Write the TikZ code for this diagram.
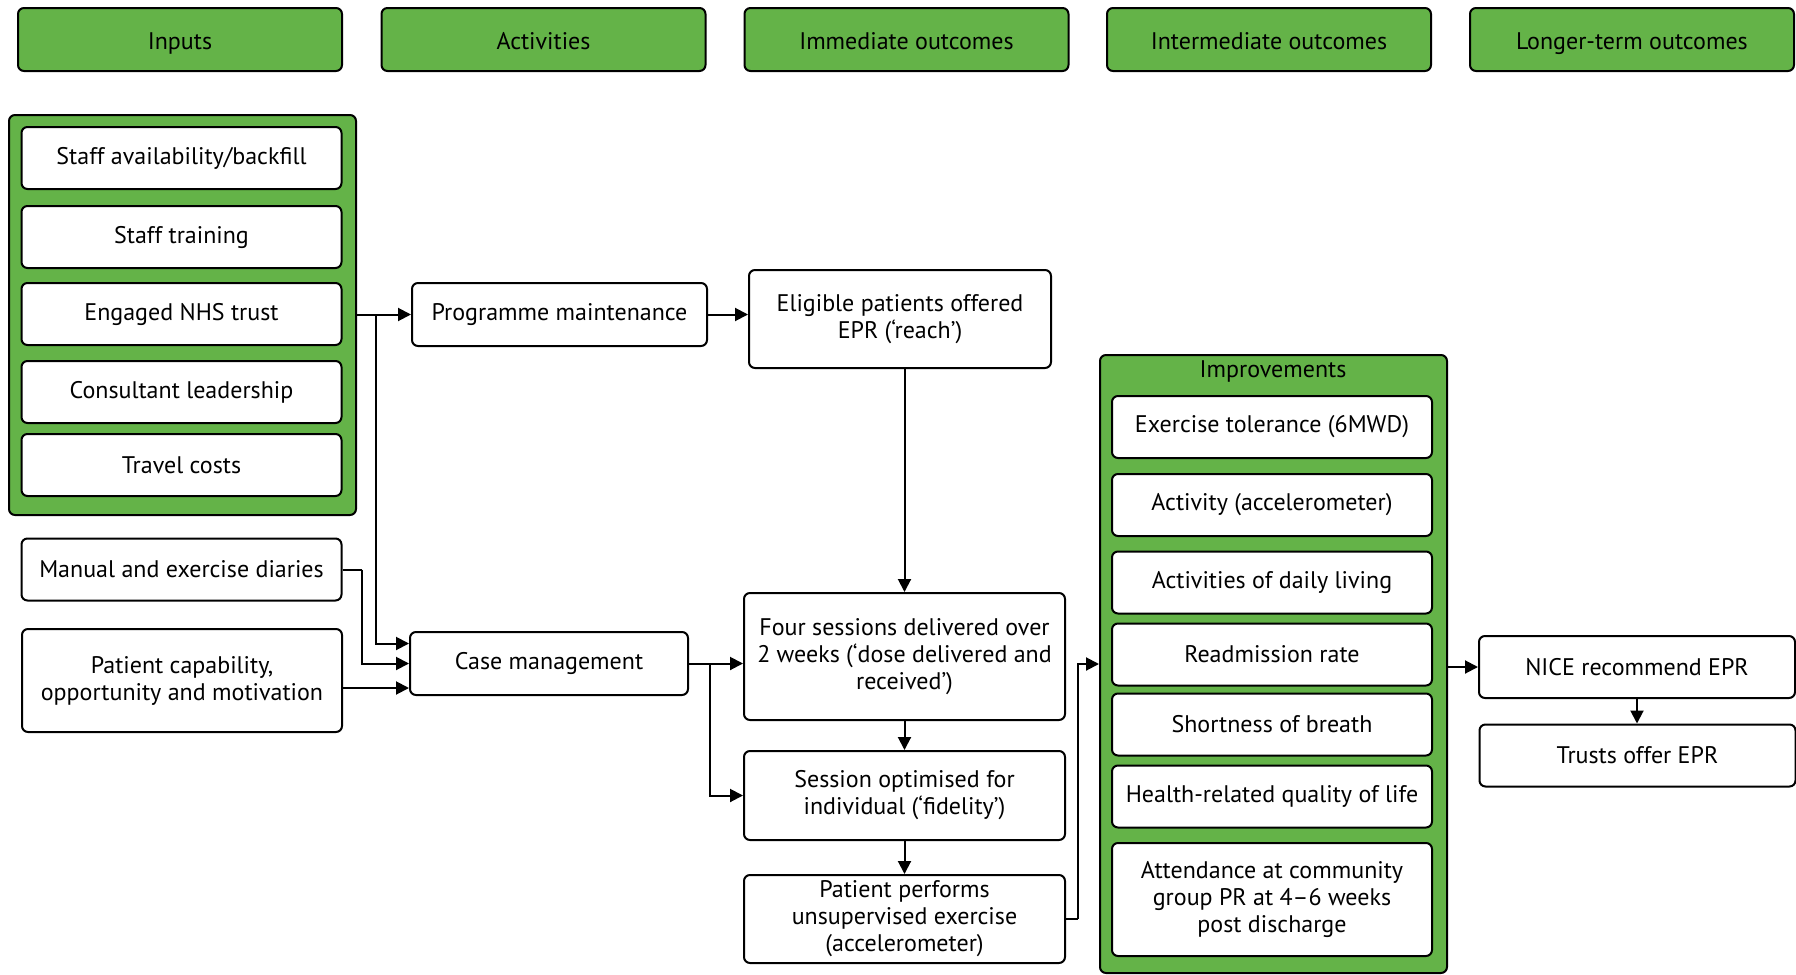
\documentclass[tikz,border=0pt]{standalone}
\usepackage{fontspec}
\setmainfont{PT Sans}
\usetikzlibrary{arrows.meta,positioning}
\definecolor{boxgreen}{RGB}{100,179,72}
\tikzset{
  every node/.style={font=\fontsize{12}{13.5}\selectfont, align=center, inner sep=0pt},
  head/.style={draw, fill=boxgreen, rounded corners=3pt, line width=1pt, minimum width=162pt, minimum height=31.5pt, text height=1em, text depth=0.05em},
  group/.style={draw, fill=boxgreen, rounded corners=3pt, line width=1pt},
  item/.style={draw, fill=white, rounded corners=3pt, line width=1pt, minimum width=160pt, minimum height=31pt},
  arr/.style={line width=1pt, -{Triangle[length=6.5pt,width=6.5pt]}},
  ln/.style={line width=1pt}
}
\begin{document}
\begin{tikzpicture}[x=0.5pt,y=-0.5pt]
  \useasboundingbox (0,0) rectangle (1796,975);

  \node[head] (hin) at (180,39.5) {Inputs};
  \node[head] (hact) at (543.5,39.5) {Activities};
  \node[head] (himm) at (906.5,39.5) {Immediate outcomes};
  \node[head] (hint) at (1269,39.5) {Intermediate outcomes};
  \node[head] (hlong) at (1632,39.5) {Longer-term outcomes};

  \node[group, minimum width=173.5pt, minimum height=200pt] (inputs) at (182.5,315) {};
  \node[item] (staff) at (181.5,158) {Staff availability/backfill};
  \node[item] (train) at (181.5,237) {Staff training};
  \node[item] (trust) at (181.5,314) {Engaged NHS trust};
  \node[item] (lead) at (181.5,392) {Consultant leadership};
  \node[item] (travel) at (181.5,465) {Travel costs};

  \node[item] (diary) at (181.5,569.5) {Manual and exercise diaries};
  \node[item, minimum height=51.5pt] (pcap) at (182,680.5) {Patient capability,\\opportunity and motivation};

  \node[item, minimum width=147.5pt, minimum height=31.5pt] (prog) at (559.5,314.5) {Programme maintenance};
  \node[item, minimum width=139pt, minimum height=31.5pt] (case) at (549,663.5) {Case management};

  \node[item, minimum width=151pt, minimum height=49pt] (elig) at (900,319) {Eligible patients offered\\EPR (`reach')};
  \node[item, minimum width=160.5pt, minimum height=63.5pt] (four) at (904.5,656.5) {Four sessions delivered over\\2 weeks (`dose delivered and\\received')};
  \node[item, minimum width=160.5pt, minimum height=44.5pt] (optim) at (904.5,795.5) {Session optimised for\\individual (`fidelity')};
  \node[item, minimum width=160.5pt, minimum height=44pt] (perf) at (904.5,919) {Patient performs\\unsupervised exercise\\(accelerometer)};

  \node[group, minimum width=173.5pt, minimum height=309pt] (impr) at (1273.5,664) {};
  \node (imprlabel) at (1273,371) {Improvements};
  \node[item] (tol) at (1272,427) {Exercise tolerance (6MWD)};
  \node[item] (acc) at (1272,505) {Activity (accelerometer)};
  \node[item] (adl) at (1272,582.5) {Activities of daily living};
  \node[item] (readm) at (1272,654.5) {Readmission rate};
  \node[item] (sob) at (1272,724.5) {Shortness of breath};
  \node[item] (hrql) at (1272,796.5) {Health-related quality of life};
  \node[item, minimum height=56.5pt] (attend) at (1272,899.5) {Attendance at community\\group PR at 4--6 weeks\\post discharge};

  \node[item, minimum width=158pt] (nice) at (1637,667) {NICE recommend EPR};
  \node[item, minimum width=158pt] (offer) at (1637.5,755.5) {Trusts offer EPR};

  \coordinate (jin) at (376,314.5);
  \coordinate (jdiary) at (362,569.5);
  \coordinate (jcase) at (710,663.5);
  \coordinate (jperf) at (1078,919);

  \draw[arr] (inputs.east |- prog.west) -- (prog.west);
  \draw[arr] (jin) |- ([yshift=10pt]case.west);
  \draw[ln] (diary.east) -- (jdiary);
  \draw[arr] (jdiary) |- (case.west);
  \draw[arr] (pcap.east |- 0,688) -- (case.west |- 0,688);
  \draw[arr] (prog.east) -- (prog.east -| elig.west);
  \draw[arr] (elig.south -| four.north) -- (four.north);
  \draw[arr] (case.east) -- (case.east -| four.west);
  \draw[arr] (jcase) |- (optim.west);
  \draw[arr] (four.south) -- (optim.north);
  \draw[arr] (optim.south) -- (perf.north);
  \draw[ln] (perf.east) -- (jperf);
  \draw[arr] (jperf) |- (impr.west);
  \draw[arr] (impr.east |- nice.west) -- (nice.west);
  \draw[arr] (nice.south) -- (nice.south |- offer.north);
\end{tikzpicture}
\end{document}
